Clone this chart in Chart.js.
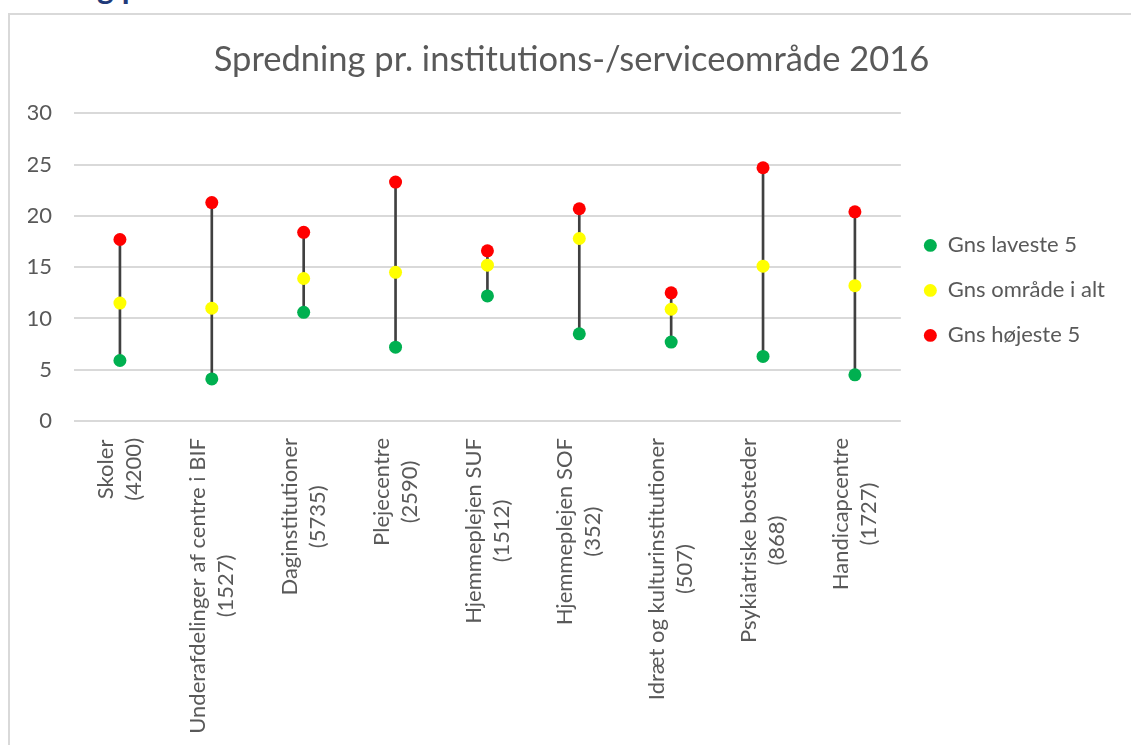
<!DOCTYPE html>
<html>
<head>
<meta charset="utf-8">
<script src="https://cdn.jsdelivr.net/npm/chart.js@4/dist/chart.umd.min.js"></script>
<style>
  html, body { margin: 0; padding: 0; background: #fff; overflow: hidden; }
  body { width: 1131px; height: 745px; position: relative; }
  #heading { position: absolute; left: 97px; top: -33px; font: bold 32px Lato, sans-serif; color: #1F3A7A; }
  #frame { position: absolute; left: 8px; top: 13px; width: 1200px; height: 800px;
           border-left: 2px solid #D9D9D9; border-top: 2px solid #D9D9D9; }
  #spredChart { position: absolute; left: 0; top: 0; }
</style>
</head>
<body>
<div id="heading">g p</div>
<div id="frame"><canvas id="spredChart" width="1121" height="730"></canvas></div>
<script>
// kategorier + antal (tal i parentes)
var omraader = ['Skoler', 'Underafdelinger af centre i BIF', 'Daginstitutioner', 'Plejecentre',
                'Hjemmeplejen SUF', 'Hjemmeplejen SOF', 'Idræt og kulturinstitutioner',
                'Psykiatriske bosteder', 'Handicapcentre'];
var antal = [4200, 1527, 5735, 2590, 1512, 352, 507, 868, 1727];

// serier
var gnsLaveste5  = [5.9, 4.1, 10.6, 7.2, 12.2, 8.5, 7.7, 6.3, 4.5];
var gnsOmraade   = [11.5, 11.0, 13.9, 14.5, 15.2, 17.8, 10.9, 15.1, 13.2];
var gnsHoejeste5 = [17.7, 21.3, 18.4, 23.3, 16.6, 20.7, 12.5, 24.7, 20.4];

var yTicks = [0, 5, 10, 15, 20, 25, 30];

var xLabels = omraader.map(function(navn, i) {
    return [navn, '(' + antal[i] + ')'];
});

// høj-lav linjer (fra laveste til højeste)
var hoejLav = gnsLaveste5.map(function(v, i) { return [v, gnsHoejeste5[i]]; });

var fontFam = 'Lato, sans-serif';
var tekstFarve = '#595959';
var xFontSize = 22;
var xLinjeHoejde = 28;

// x-labels tegnes lodret, linjerne centreret ift. hinanden (som i Excel)
var lodretLabels = {
    id: 'lodretLabels',
    afterDraw: function(chart) {
        var c = chart.ctx;
        var xs = chart.scales.x;
        var top = chart.chartArea.bottom + 17;
        c.save();
        c.font = xFontSize + 'px ' + fontFam;
        c.fillStyle = tekstFarve;
        c.textAlign = 'center';
        c.textBaseline = 'middle';
        xLabels.forEach(function(linjer, i) {
            var x = xs.getPixelForTick(i);
            var maxLen = 0;
            linjer.forEach(function(t) { maxLen = Math.max(maxLen, c.measureText(t).width); });
            linjer.forEach(function(t, j) {
                var lx = x + (j - (linjer.length - 1) / 2) * xLinjeHoejde;
                c.save();
                c.translate(lx, top + maxLen / 2);
                c.rotate(-Math.PI / 2);
                c.fillText(t, 0, 0);
                c.restore();
            });
        });
        c.restore();
    }
};

function punktSerie(label, data, farve, order) {
    return {
        type: 'line',
        label: label,
        data: data,
        showLine: false,
        order: order,
        pointStyle: 'circle',
        pointRadius: 6.5,
        pointHoverRadius: 6.5,
        pointBackgroundColor: farve,
        pointBorderColor: farve,
        borderColor: farve,
        backgroundColor: farve,
        pointBorderWidth: 0
    };
}

var ctx = document.getElementById('spredChart').getContext('2d');
var spredChart = new Chart(ctx, {
    data: {
        labels: xLabels,
        datasets: [
            punktSerie('Gns laveste 5', gnsLaveste5, '#00B050', 0),
            punktSerie('Gns område i alt', gnsOmraade, '#FFFF00', 1),
            punktSerie('Gns højeste 5', gnsHoejeste5, '#FF0000', 2),
            {
                type: 'bar',
                label: 'hoejlav',
                data: hoejLav,
                order: 3,
                barThickness: 2,
                backgroundColor: '#404040',
                borderWidth: 0
            }
        ]
    },
    plugins: [lodretLabels],
    options: {
        responsive: false,
        animation: false,
        events: [],
        layout: { padding: { left: 18, right: 16, top: 0, bottom: 324 } },
        plugins: {
            title: {
                display: true,
                text: 'Spredning pr. institutions-/serviceområde 2016',
                color: tekstFarve,
                font: { family: fontFam, size: 34.5, weight: 'normal' },
                padding: { top: 24, bottom: 33 }
            },
            legend: {
                position: 'right',
                align: 'start',
                title: { display: true, text: ' ', padding: { top: 182, bottom: 0 } },
                labels: {
                    filter: function(item) { return item.text !== 'hoejlav'; },
                    usePointStyle: true,
                    boxHeight: 9,
                    pointStyleWidth: 13,
                    padding: 23,
                    color: tekstFarve,
                    font: { family: fontFam, size: 22 }
                }
            },
            tooltip: { enabled: false }
        },
        scales: {
            x: {
                grid: { display: false, drawTicks: false },
                border: { display: false },
                ticks: { display: false }
            },
            y: {
                min: 0,
                max: 30,
                afterBuildTicks: function(axis) {
                    axis.ticks = yTicks.map(function(v) { return { value: v }; });
                },
                afterFit: function(axis) { axis.width = 46; },
                grid: { color: '#D9D9D9', lineWidth: 2, drawTicks: false },
                border: { display: false },
                ticks: {
                    color: tekstFarve,
                    font: { family: fontFam, size: 22 },
                    padding: 22
                }
            }
        }
    }
});
</script>
</body>
</html>
